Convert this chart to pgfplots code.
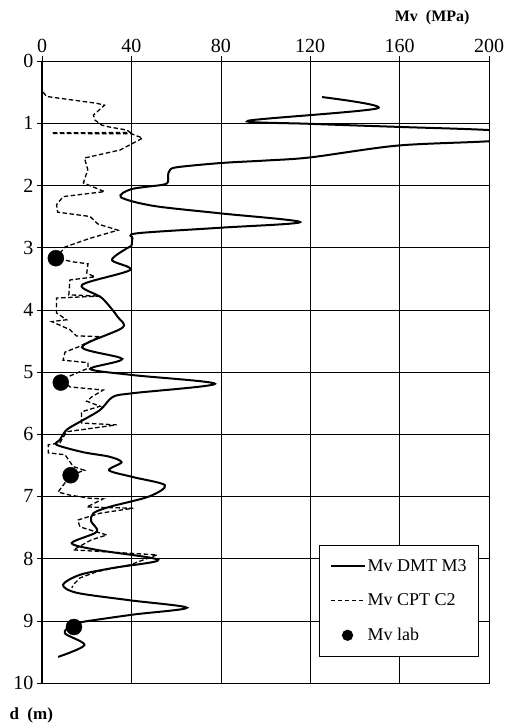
\documentclass[border=0pt]{standalone}
\usepackage{fontspec}
\setmainfont{Liberation Serif}
\usepackage{pgfplots}
\pgfplotsset{compat=1.18}
\begin{document}
\begin{tikzpicture}
\begin{axis}[name=ax, width=447pt, height=622pt, scale only axis,
  xmin=0, xmax=200, ymin=0, ymax=10, y dir=reverse,
  xtick={0,40,...,200}, ytick={0,1,...,10},
  xticklabel pos=upper, xtick pos=upper, ytick pos=left,
  tick align=outside, major tick length=5pt,
  grid=major, grid style={black,line width=0.6pt},
  axis line style={black,line width=1pt},
  tick style={black,line width=0.6pt},
  tick label style={font=\fontsize{20}{20}\selectfont},
  /pgf/number format/assume math mode=true,
  legend image code/.code={\draw[mark repeat=2,mark phase=2,#1] plot coordinates {(0pt,0pt) (17pt,0pt) (34pt,0pt)};},
  legend style={at={(0.978,0.042)}, anchor=south east, draw=black, line width=1.2pt, fill=white,
    font=\fontsize{18}{18}\selectfont, row sep=17pt, inner xsep=10pt, inner ysep=12pt},
  legend cell align=left]
 \addplot[black, line width=2pt, smooth] coordinates {
  (125.3,0.58) (150.2,0.76) (92.2,0.96) (120,1.01) (160,1.06) (200,1.11) (230,1.2) (200,1.29)
  (159,1.36) (120,1.55) (100,1.60) (80,1.64) (60,1.71) (57,1.77) (56.4,1.84) (56.4,1.94)
  (54,1.99) (40,2.06) (35.3,2.19) (50,2.33) (80,2.45) (115.5,2.59) (80,2.68) (42.5,2.77)
  (40.5,2.85) (40,2.97) (38,3.01) (31.3,3.20) (39.4,3.36) (17.9,3.60) (26.8,3.81) (34,4.12)
  (35.9,4.29) (17.9,4.60) (35.9,4.79) (21.5,4.95) (40.8,5.05) (77.4,5.19) (40.8,5.34)
  (31.7,5.40) (26,5.61) (17,5.80) (11,5.93) (8,6.09) (6.5,6.17) (18.5,6.29) (30,6.36)
  (35.6,6.45) (30,6.58) (40.8,6.69) (55,6.82) (48,7.0) (30,7.17) (23,7.27) (22,7.40)
  (24.5,7.57) (13.3,7.75) (24.5,7.86) (52,8.02) (31.8,8.15) (17,8.26) (9.4,8.42) (15.6,8.55)
  (39.3,8.67) (64.8,8.79) (40.8,8.9) (17.7,9.02) (13.3,9.07) (10.2,9.2) (19,9.39) (7.2,9.58)
 };
 \addlegendentry{Mv DMT M3}
 \addplot[black, line width=1.3pt, dash pattern=on 4.5pt off 2.5pt] coordinates {
  (0.5,0.50) (2,0.57) (24.5,0.68) (28,0.71) (23,0.87) (23.7,0.95) (26.7,1.03) (30,1.06)
  (38,1.11) (39.5,1.15) (4.4,1.155) (4.4,1.165) (40,1.17) (45,1.24) (35,1.43) (19,1.56)
  (20.5,1.75) (18.5,1.96) (28,2.10) (9.5,2.18) (6.5,2.31) (7,2.43) (21.5,2.50) (25,2.62)
  (34,2.72) (21.5,2.85) (10.3,2.99) (6.2,3.17) (14,3.23) (20.6,3.26) (20,3.41) (23.7,3.47)
  (12.5,3.52) (12,3.76) (26,3.78) (6.5,3.81) (6.5,4.05) (11,4.16) (4.4,4.19) (12.5,4.32)
  (15.4,4.42) (25.9,4.43) (16,4.60) (10.3,4.68) (9.4,4.81) (20.6,4.85) (20.6,4.94) (8.8,5.12)
  (12.5,5.24) (27.4,5.29) (22.3,5.40) (20,5.47) (26,5.55) (17.7,5.64) (17.7,5.82) (33.4,5.85)
  (11,5.96) (8,6.14) (2.8,6.17) (2.8,6.30) (10.3,6.33) (14,6.52) (19,6.58) (12.8,6.66)
  (7.2,6.93) (12.5,6.98) (21.5,7.03) (27.4,7.04) (20,7.17) (40.8,7.19) (26,7.27) (16,7.38)
  (17,7.49) (21.5,7.54) (29,7.62) (22,7.70) (14,7.86) (51.5,7.94) (39.4,8.10) (24.5,8.21)
  (17,8.31) (14,8.42) (13.4,8.47)
 };
 \addlegendentry{Mv CPT C2}
 \addplot[only marks, mark=*, mark size=8pt, black, legend image post style={mark size=5pt}] coordinates {
  (6.2,3.17) (8.4,5.17) (12.8,6.66) (14.3,9.10)
 };
 \addlegendentry{Mv lab}
\end{axis}
\node[anchor=base east, font=\bfseries\fontsize{16}{16}\selectfont] at ([xshift=-16pt,yshift=39pt]ax.north east) {Mv\ \ (MPa)};
\node[anchor=base west, font=\bfseries\fontsize{17}{17}\selectfont] at ([xshift=-36pt,yshift=-36pt]ax.south west) {d\ \ (m)};
\pgfresetboundingbox
\path[use as bounding box] ([xshift=-42pt,yshift=-43pt]ax.south west) rectangle ([xshift=19pt,yshift=61pt]ax.north east);
\end{tikzpicture}
\end{document}
